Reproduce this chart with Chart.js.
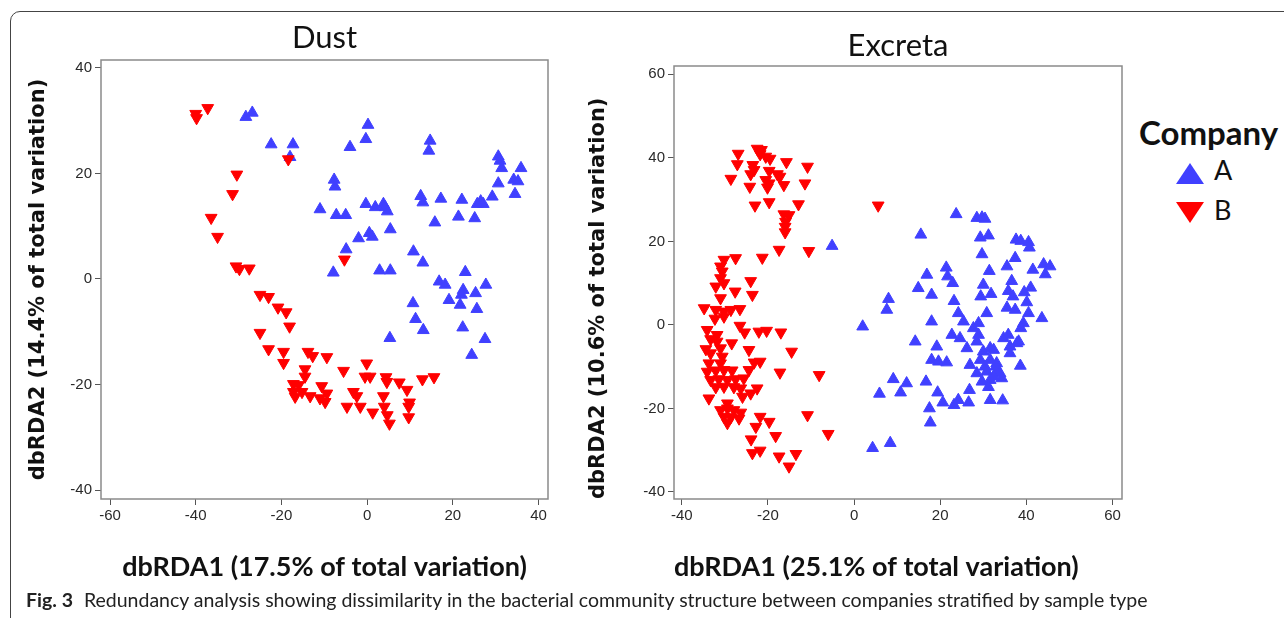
<!DOCTYPE html>
<html>
<head>
<meta charset="utf-8">
<script src="https://cdn.jsdelivr.net/npm/chart.js@4.4.1/dist/chart.umd.min.js"></script>
<style>
  html, body { margin: 0; padding: 0; background: #fff; }
  body { width: 1284px; height: 618px; position: relative; overflow: hidden; font-family: Lato, sans-serif; }
  .frame { position: absolute; left: 10px; top: 11px; width: 1400px; height: 700px;
           border: 1.5px solid #444; border-radius: 10px; box-sizing: border-box; }
  canvas { position: absolute; top: 0; }
  #dust { left: 0; }
  #excreta { left: 560px; }
  .legend { position: absolute; left: 1139px; top: 111px; color: #111; }
  .legend .title { font-weight: bold; font-size: 33px; line-height: 42px; }
  .legend .row { position: relative; height: 40px; }
  .legend .up, .legend .down { position: absolute; left: 37px; width: 0; height: 0;
           border-left: 14px solid transparent; border-right: 14px solid transparent; }
  .legend .up { top: 10px; border-bottom: 21px solid #4040ff; }
  .legend .down { top: 9px; border-top: 21px solid #ff0000; }
  .legend .lab { position: absolute; left: 75px; top: 2px; font-size: 27px; line-height: 30px; }
  .caption { position: absolute; left: 26px; top: 588px; font-size: 19.5px; line-height: 24px; color: #222; white-space: nowrap; }
  .caption b { margin-right: 11px; }
</style>
</head>
<body>
<div class="frame"></div>
<canvas id="dust" width="560" height="590"></canvas>
<canvas id="excreta" width="575" height="590"></canvas>

<div class="legend">
  <div class="title">Company</div>
  <div class="row"><span class="up"></span><span class="lab">A</span></div>
  <div class="row"><span class="down"></span><span class="lab">B</span></div>
</div>

<div class="caption"><b>Fig. 3</b>Redundancy analysis showing dissimilarity in the bacterial community structure between companies stratified by sample type</div>

<script>
// [dbRDA1, dbRDA2]
const dustA = [
  [-28.3, 30.7], [-26.8, 31.5], [-22.4, 25.5], [-17.3, 25.5], [-18.0, 23.1], [-11.0, 13.2],
  [-7.7, 18.8], [-7.5, 17.5], [0.2, 29.2], [-0.3, 26.5], [-4.0, 25.0], [14.7, 26.2],
  [14.4, 24.3], [30.6, 23.2], [31.0, 22.4], [31.4, 21.0], [35.9, 21.0], [34.2, 18.8],
  [35.2, 18.5], [30.6, 18.1], [34.5, 16.1], [29.2, 15.6], [26.5, 14.7], [27.1, 14.2],
  [25.7, 14.2], [22.1, 15.0], [21.3, 11.8], [25.1, 11.5], [17.2, 15.2], [12.5, 15.7],
  [13.0, 14.5], [15.8, 10.7], [-0.3, 14.2], [-7.2, 12.1], [-5.0, 12.1], [1.9, 13.6],
  [3.8, 14.2], [4.2, 13.6], [4.7, 12.8], [-2.0, 7.7], [0.5, 8.7], [1.2, 8.0],
  [5.4, 9.4], [10.8, 5.2], [13.0, 3.1], [-4.9, 5.6], [-7.9, 1.2], [2.9, 1.6],
  [5.4, 1.6], [22.9, 1.3], [16.8, -0.5], [18.2, -1.1], [22.4, -2.1], [22.0, -3.0],
  [25.3, -2.7], [27.7, -1.1], [19.1, -4.0], [21.7, -4.9], [10.7, -4.6], [25.6, -5.7],
  [11.3, -7.6], [13.1, -9.7], [5.3, -11.2], [22.3, -9.2], [27.5, -11.4], [24.4, -14.4]
];
const dustB = [
  [-40.0, 31.3], [-39.8, 30.5], [-37.2, 32.4], [-18.4, 22.7], [-30.4, 19.8], [-31.4, 16.1],
  [-36.4, 11.6], [-34.9, 8.0], [-5.3, 3.7], [-30.6, 2.4], [-29.8, 1.9], [-27.5, 2.0],
  [-25.0, -3.0], [-23.0, -3.4], [-20.8, -5.4], [-18.9, -6.3], [-18.1, -9.0], [-25.0, -10.2],
  [-23.0, -13.3], [-19.5, -13.8], [-19.5, -15.9], [-13.8, -13.8], [-12.7, -14.6], [-9.4, -14.8],
  [-14.5, -17.1], [-14.5, -18.5], [-17.2, -19.9], [-16.0, -20.1], [-17.2, -21.4], [-15.2, -21.4],
  [-16.8, -22.3], [-13.3, -22.2], [-10.6, -20.3], [-11.0, -22.6], [-9.8, -23.3], [-9.4, -21.7],
  [-5.5, -17.4], [-0.1, -16.0], [-0.5, -18.5], [0.7, -18.5], [-3.2, -21.4], [-2.4, -22.2],
  [-4.7, -24.2], [-1.6, -24.2], [1.3, -25.3], [4.4, -18.6], [4.6, -19.5], [3.8, -22.2],
  [4.0, -24.2], [4.7, -25.8], [5.2, -27.4], [7.5, -19.6], [9.3, -21.0], [9.9, -23.4],
  [9.7, -24.2], [9.7, -26.2], [12.9, -19.0], [15.6, -18.6]
];
const excretaA = [
  [-5.1, 18.9], [23.7, 26.5], [28.5, 25.6], [29.7, 25.7], [30.4, 25.4], [15.5, 21.6],
  [29.3, 20.9], [31.2, 21.4], [37.6, 20.4], [38.7, 20.1], [40.5, 19.8], [40.7, 18.5],
  [29.7, 16.9], [37.4, 16.0], [35.5, 14.0], [44.0, 14.5], [45.5, 14.0], [41.5, 13.2],
  [44.4, 12.1], [21.4, 13.7], [31.4, 12.9], [16.9, 12.0], [21.7, 11.6], [22.9, 10.0],
  [36.6, 10.5], [14.9, 8.8], [30.0, 9.6], [41.0, 8.9], [35.8, 8.1], [39.5, 7.8],
  [18.0, 7.2], [29.4, 6.8], [31.8, 7.4], [36.9, 6.8], [8.0, 6.2], [7.6, 3.6],
  [23.2, 5.7], [40.1, 5.4], [35.5, 4.1], [37.4, 3.6], [30.8, 2.8], [24.2, 2.8],
  [40.5, 2.8], [43.6, 1.6], [2.0, -0.4], [18.0, 0.8], [25.4, 0.8], [28.9, 0.4],
  [39.3, 0.4], [38.7, -0.8], [27.7, -0.8], [14.2, -4.0], [19.2, -5.2], [22.7, -2.4],
  [24.6, -3.2], [28.5, -4.0], [28.9, -2.4], [34.7, -3.2], [35.8, -2.4], [38.2, -4.0],
  [26.2, -5.6], [31.6, -5.6], [36.2, -5.2], [37.8, -4.4], [30.0, -6.4], [32.4, -6.0],
  [36.2, -6.8], [18.0, -8.4], [19.6, -8.8], [21.5, -9.0], [26.9, -9.6], [29.3, -8.4],
  [31.6, -8.4], [33.1, -9.2], [38.6, -9.8], [28.5, -11.6], [30.8, -11.2], [33.1, -11.2],
  [34.3, -12.8], [31.6, -13.2], [29.7, -13.6], [32.9, -10.0], [33.9, -11.6], [30.4, -10.0],
  [32.4, -12.4], [9.1, -13.0], [12.2, -14.0], [16.7, -13.6], [5.9, -16.5], [10.8, -16.2],
  [19.4, -16.2], [26.8, -15.6], [31.2, -14.9], [20.6, -18.6], [23.2, -19.2], [24.2, -18.0],
  [26.6, -18.6], [31.6, -18.0], [34.5, -18.1], [17.5, -20.0], [17.7, -23.4], [4.3, -29.5],
  [8.4, -28.3]
];
const excretaB = [
  [-26.9, 41.0], [-27.1, 38.5], [-22.5, 42.2], [-21.5, 41.9], [-21.8, 40.9], [-20.5, 40.3],
  [-19.5, 39.8], [-23.5, 38.3], [-23.2, 37.1], [-24.0, 36.1], [-19.7, 36.9], [-17.8, 36.1],
  [-17.2, 35.5], [-15.7, 39.0], [-10.8, 37.9], [-28.6, 35.0], [-24.2, 33.1], [-20.5, 34.7],
  [-20.1, 32.9], [-19.7, 33.9], [-16.3, 33.5], [-11.4, 33.9], [-23.0, 28.6], [-19.7, 29.4],
  [-12.9, 28.9], [-16.3, 26.5], [-15.1, 26.3], [-15.9, 24.7], [-16.0, 23.5], [-16.0, 22.2],
  [5.6, 28.6], [-17.4, 18.0], [-21.3, 16.1], [-10.5, 17.7], [-27.5, 16.0], [-30.2, 15.6],
  [-31.0, 14.0], [-30.6, 12.8], [-31.0, 11.2], [-30.2, 10.0], [-32.1, 9.2], [-24.0, 10.5],
  [-27.6, 8.0], [-23.6, 7.2], [-31.0, 6.4], [-34.8, 4.0], [-32.1, 3.6], [-30.2, 3.2],
  [-28.6, 3.6], [-26.5, 3.8], [-32.3, 1.5], [-30.2, 2.0], [-34.1, -1.2], [-26.5, -0.2],
  [-25.4, -1.8], [-22.1, -1.6], [-20.3, -1.4], [-17.0, -1.8], [-31.8, -2.4], [-33.3, -3.4],
  [-31.8, -4.0], [-28.4, -4.4], [-34.4, -5.8], [-31.0, -5.6], [-24.4, -6.0], [-14.5, -6.4],
  [-33.3, -6.8], [-30.6, -7.6], [-33.7, -9.2], [-31.0, -9.2], [-23.2, -9.0], [-21.8, -8.8],
  [-34.1, -11.2], [-32.1, -10.9], [-30.2, -10.8], [-28.3, -10.9], [-24.4, -10.8], [-17.2, -11.4],
  [-8.1, -12.0], [-33.3, -13.2], [-31.4, -13.0], [-29.4, -13.2], [-27.5, -13.0], [-25.6, -12.8],
  [-32.1, -14.9], [-30.2, -14.8], [-27.9, -14.9], [-26.3, -15.2], [-22.5, -15.2], [-24.0, -16.4],
  [-33.7, -17.6], [-25.9, -17.2], [-29.4, -18.8], [-31.0, -20.4], [-29.4, -20.0], [-27.9, -20.4],
  [-26.3, -21.0], [-30.2, -22.0], [-28.6, -22.1], [-26.7, -22.4], [-29.4, -23.5], [-21.8, -22.0],
  [-19.7, -23.2], [-22.8, -24.4], [-10.8, -21.6], [-23.9, -27.4], [-18.2, -26.6], [-6.0, -26.1],
  [-23.6, -30.7], [-21.8, -30.1], [-17.4, -31.5], [-13.5, -30.9], [-15.1, -33.9]
];

const dustXTicks = [-60, -40, -20, 0, 20, 40];
const dustYTicks = [-40, -20, 0, 20, 40];
const excretaXTicks = [-40, -20, 0, 20, 40, 60];
const excretaYTicks = [-40, -20, 0, 20, 40, 60];

const BLUE = '#4040ff';
const RED = '#ff0000';
const tickFont = { family: "'Liberation Sans Narrow', 'Liberation Sans', Arial, sans-serif", size: 15 };

// grey frame round the plot area
const boxPlugin = {
  id: 'box',
  beforeDatasetsDraw(chart) {
    const { ctx, chartArea: a } = chart;
    ctx.save();
    ctx.strokeStyle = '#8a8a8a';
    ctx.lineWidth = 1.5;
    ctx.strokeRect(a.left, a.top, a.right - a.left, a.bottom - a.top);
    ctx.restore();
  }
};

function toPoints(pairs) {
  return pairs.map(p => ({ x: p[0], y: p[1] }));
}

function createChart(id, cfg) {
  const ctx = document.getElementById(id).getContext('2d');
  return new Chart(ctx, {
    type: 'scatter',
    data: {
      datasets: [
        { label: 'B', data: toPoints(cfg.b), pointStyle: 'triangle', rotation: 180,
          pointRadius: 6.8, backgroundColor: RED, borderColor: RED, borderWidth: 1 },
        { label: 'A', data: toPoints(cfg.a), pointStyle: 'triangle', rotation: 0,
          pointRadius: 6.8, backgroundColor: BLUE, borderColor: BLUE, borderWidth: 1 }
      ]
    },
    options: {
      responsive: false,
      animation: false,
      layout: { padding: { left: 0, top: 0, right: cfg.padRight, bottom: 0 } },
      plugins: { legend: { display: false }, tooltip: { enabled: false } },
      scales: {
        x: {
          type: 'linear', position: 'bottom', min: cfg.xMin, max: cfg.xMax,
          afterBuildTicks: s => { s.ticks = cfg.xTicks.map(v => ({ value: v })); },
          afterFit: s => { s.height = cfg.bottomH; },
          ticks: { font: tickFont, color: '#2a2a2a', padding: 2, callback: v => String(v) },
          grid: { drawOnChartArea: false, tickLength: 6, color: '#555' },
          border: { display: false },
          title: { display: true, text: cfg.xTitle, color: '#111', align: cfg.xTitleAlign,
                   font: { family: 'Lato', size: 27, weight: 'bold' }, padding: { top: 0, bottom: 7 } }
        },
        top: {
          type: 'linear', position: 'top', axis: 'x',
          afterFit: s => { s.height = cfg.topH; },
          ticks: { display: false }, grid: { display: false }, border: { display: false },
          title: { display: true, text: cfg.title, color: '#111',
                   font: { family: 'Lato', size: 31 }, padding: { top: cfg.titlePad, bottom: 0 } }
        },
        y: {
          type: 'linear', position: 'left', min: cfg.yMin, max: cfg.yMax,
          afterBuildTicks: s => { s.ticks = cfg.yTicks.map(v => ({ value: v })); },
          afterFit: s => { s.width = cfg.leftW; },
          ticks: { font: tickFont, color: '#2a2a2a', padding: 3, callback: v => String(v) },
          grid: { drawOnChartArea: false, tickLength: 6, color: '#555' },
          border: { display: false },
          title: { display: true, text: cfg.yTitle, color: '#111', align: cfg.yTitleAlign,
                   font: { family: "'DejaVu Sans'", size: 21, weight: 'bold' }, padding: { top: 26, bottom: 0 } }
        }
      }
    },
    plugins: [boxPlugin]
  });
}

createChart('dust', {
  a: dustA, b: dustB, title: 'Dust',
  xTitle: 'dbRDA1 (17.5% of total variation)', yTitle: 'dbRDA2 (14.4% of total variation)',
  xMin: -62.1, xMax: 42.2, yMin: -41.7, yMax: 41.5,
  xTicks: dustXTicks, yTicks: dustYTicks, xTitleAlign: 'center', yTitleAlign: 'center',
  leftW: 101, topH: 60, bottomH: 91, padRight: 12, titlePad: 19
});

createChart('excreta', {
  a: excretaA, b: excretaB, title: 'Excreta',
  xTitle: 'dbRDA1 (25.1% of total variation)', yTitle: 'dbRDA2 (10.6% of total variation)',
  xMin: -41.8, xMax: 62.2, yMin: -41.7, yMax: 62.0,
  xTicks: excretaXTicks, yTicks: excretaYTicks, xTitleAlign: 'start', yTitleAlign: 'start',
  leftW: 114, topH: 66, bottomH: 91, padRight: 13, titlePad: 27
});
</script>
</body>
</html>
